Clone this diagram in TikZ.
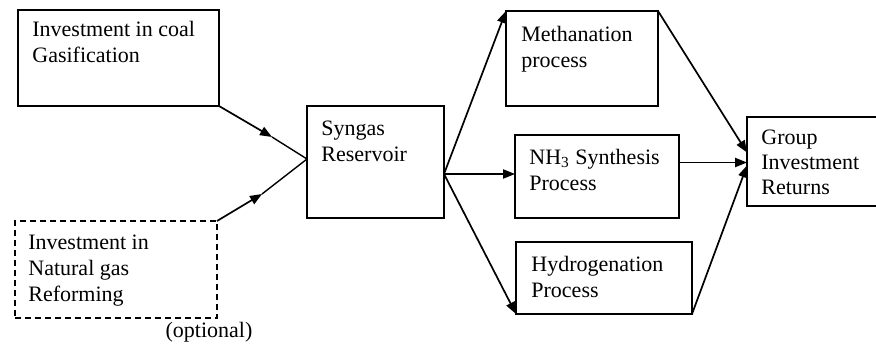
\documentclass[tikz,border=0pt]{standalone}
\usepackage{fontspec}
\setmainfont{Liberation Serif}
\usetikzlibrary{arrows.meta}

\begin{document}
\begin{tikzpicture}[x=0.5pt,y=-0.5pt,
  every node/.style={font=\fontsize{11}{13}\selectfont},
  box/.style={draw,line width=0.75pt,inner sep=0pt,outer sep=0pt,anchor=north west},
  txt/.style={anchor=north west,align=left,inner sep=0pt},
  arr/.style={line width=0.85pt,-{Triangle[length=6pt,width=4.6pt]}}]
  \useasboundingbox (0,0) rectangle (876,347);
  % boxes
  \node[box,minimum width=100.5pt,minimum height=48pt] (coal) at (18,10) {};
  \node[box,dash pattern=on 3pt off 2pt,minimum width=101pt,minimum height=48.5pt] (gas) at (15,221) {};
  \node[box,minimum width=68.5pt,minimum height=56pt] (syn) at (307,106) {};
  \node[box,minimum width=76pt,minimum height=47.5pt] (meth) at (506,11) {};
  \node[box,minimum width=82pt,minimum height=41.5pt] (nh) at (515,135) {};
  \node[box,minimum width=88pt,minimum height=36pt] (hyd) at (516,242) {};
  \node[box,minimum width=70pt,minimum height=44.5pt] (grp) at (747,117) {};
  % texts
  \node[txt] (coalt) at (32,21) {Investment in coal\\Gasification};
  \node[txt] (gast) at (28,235) {Investment in\\Natural gas\\Reforming};
  \node[anchor=base] (opt) at (209,337) {(optional)};
  \node[txt] (synt) at (321,121) {Syngas\\Reservoir};
  \node[txt] (metht) at (521,26) {Methanation\\process};
  \node[txt] (nht) at (529,149) {NH\textsubscript{3} Synthesis\\Process};
  \node[txt] (hydt) at (531,256) {Hydrogenation\\Process};
  \node[txt,font=\fontsize{11}{12.3}\selectfont] (grpt) at (761,130) {Group\\Investment\\Returns};
  % joints
  \coordinate (c1) at (272,137);
  \coordinate (c2) at (262,194);
  \coordinate (jn) at ([yshift=1.5pt]syn.west);
  \coordinate (fork) at ([yshift=-6pt]syn.east);
  \coordinate (gin) at ([yshift=-0.5pt]grp.west);
  % connectors
  \draw[arr] (coal.south east) -- (c1);
  \draw[line width=0.7pt] (c1) -- (jn);
  \draw[arr] (gas.north east) -- (c2);
  \draw[line width=0.7pt] (c2) -- (jn);
  \draw[arr] (fork) -- (meth.north west);
  \draw[arr] (fork) -- (fork -| nh.west);
  \draw[arr] (fork) -- (hyd.south west);
  \draw[arr] (meth.north east) -- ([yshift=5pt]gin);
  \draw[arr] (nh.east |- gin) -- (gin);
  \draw[arr] (hyd.south east) -- ([yshift=-1.5pt]gin);
\end{tikzpicture}
\end{document}
